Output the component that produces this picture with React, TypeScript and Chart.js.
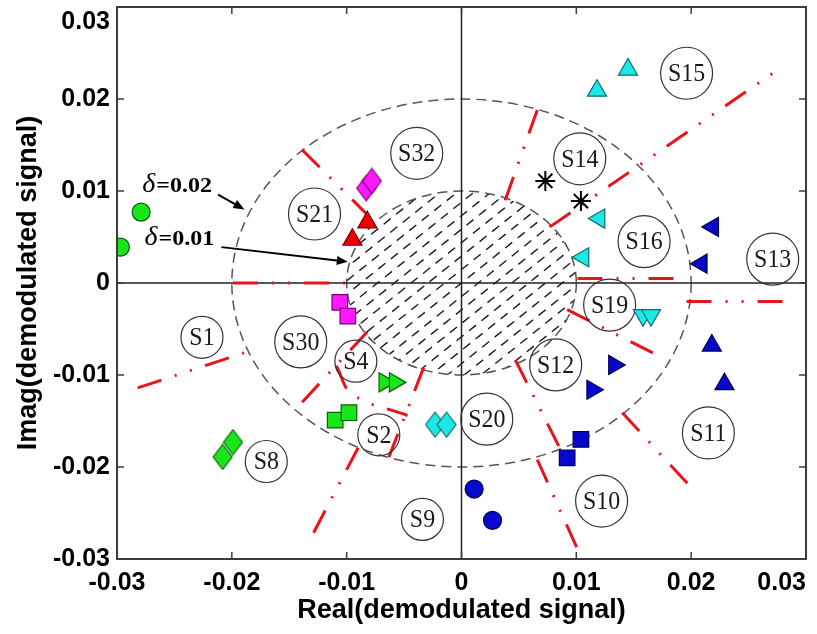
import { useEffect, useRef } from 'react';
import { Chart, registerables } from 'chart.js';

Chart.register(...registerables);

// ---------- axes ----------
const xTickValues = [-0.03, -0.02, -0.01, 0, 0.01, 0.02, 0.03];
const xTickLabels = ['-0.03', '-0.02', '-0.01', '0', '0.01', '0.02', '0.03'];
const yTickValues = [-0.03, -0.02, -0.01, 0, 0.01, 0.02, 0.03];
const yTickLabels = ['-0.03', '-0.02', '-0.01', '0', '0.01', '0.02', '0.03'];
const xTitle = 'Real(demodulated signal)';
const yTitle = 'Imag(demodulated signal)';

// ---------- received symbols ----------
const greenCircles = [{ x: -0.0279, y: 0.0077 }, { x: -0.0297, y: 0.0039 }];
const magentaDiamonds = [{ x: -0.0083, y: 0.0103 }, { x: -0.0078, y: 0.0111 }];
const redTriangles = [{ x: -0.0095, y: 0.0047 }, { x: -0.0082, y: 0.0066 }];
const magentaSquares = [{ x: -0.0106, y: -0.0021 }, { x: -0.0099, y: -0.0036 }];
const greenRightTriangles = [{ x: -0.0067, y: -0.0108 }, { x: -0.0058, y: -0.0108 }];
const greenSquares = [{ x: -0.011, y: -0.0149 }, { x: -0.0098, y: -0.0141 }];
const greenDiamonds = [{ x: -0.0199, y: -0.0173 }, { x: -0.0208, y: -0.0189 }];
const cyanDiamonds = [{ x: -0.0023, y: -0.0154 }, { x: -0.0013, y: -0.0154 }];
const blueCircles = [{ x: 0.0011, y: -0.0224 }, { x: 0.0027, y: -0.0258 }];
const blueSquares = [{ x: 0.0104, y: -0.017 }, { x: 0.0092, y: -0.019 }];
const blueRightTriangles = [{ x: 0.0133, y: -0.0089 }, { x: 0.0114, y: -0.0116 }];
const blueUpTriangles = [{ x: 0.0218, y: -0.0068 }, { x: 0.0229, y: -0.011 }];
const cyanDownTriangles = [{ x: 0.0158, y: -0.0035 }, { x: 0.0165, y: -0.0035 }];
const blueLeftTriangles = [{ x: 0.0219, y: 0.0061 }, { x: 0.0209, y: 0.0021 }];
const cyanLeftTriangles = [{ x: 0.012, y: 0.007 }, { x: 0.0106, y: 0.0028 }];
const blackStars = [{ x: 0.0073, y: 0.0111 }, { x: 0.0104, y: 0.0089 }];
const cyanUpTriangles = [{ x: 0.0118, y: 0.0209 }, { x: 0.0145, y: 0.0232 }];

// ---------- region labels ----------
const regionNames = ['S1', 'S2', 'S4', 'S8', 'S9', 'S10', 'S11', 'S12', 'S13', 'S14', 'S15', 'S16', 'S19', 'S20', 'S21', 'S30', 'S32'];
const regionX = [-0.0226, -0.0072, -0.0092, -0.017, -0.0034, 0.0122, 0.0215, 0.0082, 0.0271, 0.0103, 0.0196, 0.0159, 0.0129, 0.0022, -0.0128, -0.014, -0.0039];
const regionY = [-0.0059, -0.0165, -0.0085, -0.0194, -0.0257, -0.0237, -0.0163, -0.0089, 0.0026, 0.0135, 0.0228, 0.0045, -0.0024, -0.0148, 0.0075, -0.0064, 0.0141];

// ---------- threshold circles / annotations ----------
const deltaRadii = [0.02, 0.01];
const deltaLabels = ['=0.02', '=0.01'];
const deltaTextX = [-0.0278, -0.0276];
const deltaTextY = [0.0099, 0.0041];
const arrowFromX = [-0.0212, -0.0209];
const arrowFromY = [0.0096, 0.0039];
const arrowToX = [-0.0189, -0.0099];
const arrowToY = [0.0080, 0.0023];

// ---------- decision boundaries ----------
const boundaryLines = [
  [{ x: -0.0199, y: 0 }, { x: -0.0101, y: 0 }],
  [{ x: -0.0139, y: 0.0145 }, { x: -0.0081, y: 0.0073 }],
  [{ x: 0.0066, y: 0.0188 }, { x: 0.0038, y: 0.009 }],
  [{ x: 0.0077, y: 0.0061 }, { x: 0.0271, y: 0.0228 }],
  [{ x: 0.0101, y: 0.0005 }, { x: 0.019, y: 0.0005 }],
  [{ x: 0.0196, y: -0.002 }, { x: 0.0284, y: -0.002 }],
  [{ x: 0.0092, y: -0.0029 }, { x: 0.017, y: -0.0078 }],
  [{ x: 0.0047, y: -0.0084 }, { x: 0.0085, y: -0.0178 }],
  [{ x: 0.0066, y: -0.0192 }, { x: 0.0102, y: -0.0292 }],
  [{ x: 0.014, y: -0.0141 }, { x: 0.0202, y: -0.0225 }],
  [{ x: -0.0282, y: -0.0114 }, { x: -0.0187, y: -0.0075 }],
  [{ x: -0.0082, y: -0.0053 }, { x: -0.0145, y: -0.0138 }],
  [{ x: -0.009, y: -0.0179 }, { x: -0.0132, y: -0.0279 }],
  [{ x: -0.0033, y: -0.0092 }, { x: -0.0065, y: -0.0195 }],
  [{ x: -0.0109, y: -0.009 }, { x: -0.0095, y: -0.0121 }, { x: -0.0047, y: -0.0144 }],
];

const SANS = '"Liberation Sans", Arial, sans-serif';
const SERIF = '"Liberation Serif", "Times New Roman", serif';

function makeDiamond(fill: string, stroke: string) {
  const c = document.createElement('canvas');
  c.width = 21;
  c.height = 27;
  const g = c.getContext('2d')!;
  g.beginPath();
  g.moveTo(10.5, 1);
  g.lineTo(20, 13.5);
  g.lineTo(10.5, 26);
  g.lineTo(1, 13.5);
  g.closePath();
  g.fillStyle = fill;
  g.fill();
  g.strokeStyle = stroke;
  g.lineWidth = 1.2;
  g.stroke();
  return c;
}

const zeroPad = (s: any) => {
  s.paddingLeft = 0;
  s.paddingRight = 0;
  s.paddingTop = 0;
  s.paddingBottom = 0;
};

const decorPlugin = {
  id: 'decor',
  beforeDatasetsDraw(chart: any) {
    const { ctx, chartArea: a, scales } = chart;
    const xs = scales.x;
    const ys = scales.y;
    const cx = xs.getPixelForValue(0);
    const cy = ys.getPixelForValue(0);
    // hatch inside inner circle
    const rIn = deltaRadii[1];
    const rx = xs.getPixelForValue(rIn) - cx;
    const ry = cy - ys.getPixelForValue(rIn);
    ctx.save();
    ctx.beginPath();
    ctx.ellipse(cx, cy, rx, ry, 0, 0, Math.PI * 2);
    ctx.clip();
    const len = Math.hypot(rx, ry);
    const ux = rx / len;
    const uy = -ry / len;
    const nx = -uy;
    const ny = ux;
    ctx.strokeStyle = '#1a1a1a';
    ctx.lineWidth = 1.4;
    ctx.setLineDash([9, 7]);
    for (let k = -20; k <= 20; k++) {
      const bx = cx + nx * k * 10.5;
      const by = cy + ny * k * 10.5;
      ctx.beginPath();
      ctx.moveTo(bx - ux * 200, by - uy * 200);
      ctx.lineTo(bx + ux * 200, by + uy * 200);
      ctx.stroke();
    }
    ctx.restore();
    // dashed threshold circles
    ctx.save();
    ctx.strokeStyle = '#555';
    ctx.lineWidth = 1.5;
    ctx.setLineDash([10, 6]);
    for (const r of deltaRadii) {
      const ex = xs.getPixelForValue(r) - cx;
      const ey = cy - ys.getPixelForValue(r);
      ctx.beginPath();
      ctx.ellipse(cx, cy, ex, ey, 0, 0, Math.PI * 2);
      ctx.stroke();
    }
    ctx.restore();
    // zero axes
    ctx.save();
    ctx.strokeStyle = '#222';
    ctx.lineWidth = 1.5;
    ctx.beginPath();
    ctx.moveTo(cx, a.top);
    ctx.lineTo(cx, a.bottom);
    ctx.moveTo(a.left, cy);
    ctx.lineTo(a.right, cy);
    ctx.stroke();
    ctx.restore();
  },
  afterDatasetsDraw(chart: any) {
    const { ctx, chartArea: a, scales } = chart;
    const xs = scales.x;
    const ys = scales.y;
    // region label texts
    ctx.save();
    ctx.fillStyle = '#1a1a1a';
    ctx.font = `26px ${SERIF}`;
    ctx.textAlign = 'center';
    ctx.textBaseline = 'middle';
    regionNames.forEach((name, i) => {
      const px = xs.getPixelForValue(regionX[i]);
      const py = ys.getPixelForValue(regionY[i]);
      ctx.save();
      ctx.translate(px, py + 1);
      ctx.scale(0.92, 1);
      ctx.fillText(name, 0, 0);
      ctx.restore();
    });
    ctx.restore();
    // delta annotations
    ctx.save();
    ctx.fillStyle = '#000';
    ctx.strokeStyle = '#000';
    ctx.textBaseline = 'alphabetic';
    ctx.textAlign = 'left';
    deltaLabels.forEach((lab, i) => {
      const px = xs.getPixelForValue(deltaTextX[i]);
      const py = ys.getPixelForValue(deltaTextY[i]);
      ctx.font = `italic 28px ${SERIF}`;
      ctx.fillText('\u03b4', px, py);
      const w = ctx.measureText('\u03b4').width;
      ctx.save();
      ctx.translate(px + w + 1, py);
      ctx.scale(1.2, 1);
      ctx.font = `bold 20px ${SERIF}`;
      ctx.fillText(lab, 0, 0);
      ctx.restore();
      const x1 = xs.getPixelForValue(arrowFromX[i]);
      const y1 = ys.getPixelForValue(arrowFromY[i]);
      const x2 = xs.getPixelForValue(arrowToX[i]);
      const y2 = ys.getPixelForValue(arrowToY[i]);
      const ang = Math.atan2(y2 - y1, x2 - x1);
      const hl = 11;
      const hw = 4.5;
      ctx.lineWidth = 2;
      ctx.beginPath();
      ctx.moveTo(x1, y1);
      ctx.lineTo(x2 - Math.cos(ang) * hl * 0.8, y2 - Math.sin(ang) * hl * 0.8);
      ctx.stroke();
      ctx.beginPath();
      ctx.moveTo(x2, y2);
      ctx.lineTo(x2 - Math.cos(ang) * hl - Math.sin(ang) * hw, y2 - Math.sin(ang) * hl + Math.cos(ang) * hw);
      ctx.lineTo(x2 - Math.cos(ang) * hl + Math.sin(ang) * hw, y2 - Math.sin(ang) * hl - Math.cos(ang) * hw);
      ctx.closePath();
      ctx.fill();
    });
    ctx.restore();
    // frame and inner ticks
    ctx.save();
    ctx.strokeStyle = '#3c3c3c';
    ctx.lineWidth = 2;
    ctx.strokeRect(a.left, a.top, a.right - a.left, a.bottom - a.top);
    ctx.lineWidth = 1.5;
    ctx.beginPath();
    const tl = 7;
    xTickValues.forEach((v) => {
      const px = xs.getPixelForValue(v);
      ctx.moveTo(px, a.top);
      ctx.lineTo(px, a.top + tl);
      ctx.moveTo(px, a.bottom);
      ctx.lineTo(px, a.bottom - tl);
    });
    yTickValues.forEach((v) => {
      const py = ys.getPixelForValue(v);
      ctx.moveTo(a.left, py);
      ctx.lineTo(a.left + tl, py);
      ctx.moveTo(a.right, py);
      ctx.lineTo(a.right - tl, py);
    });
    ctx.stroke();
    ctx.restore();
  },
};

export default function App() {
  const ref = useRef<HTMLCanvasElement | null>(null);

  useEffect(() => {
    const canvas = ref.current;
    if (!canvas) return;

    const greenDia = makeDiamond('#19e619', '#0b5e0b');
    const magentaDia = makeDiamond('#ff19ff', '#7a007a');
    const cyanDia = makeDiamond('#1de8e8', '#0b6b6b');

    const GREEN = '#19e619', GREEN_E = '#0b5e0b';
    const MAG = '#ff19ff', MAG_E = '#7a007a';
    const RED = '#ee0000', RED_E = '#7a0000';
    const CYAN = '#1de8e8', CYAN_E = '#0b6b6b';
    const BLUE = '#0808cc', BLUE_E = '#000050';

    const marker = (data: any[], style: any, fill: string, edge: string, radius: number, rotation = 0) => ({
      type: 'scatter' as const,
      data,
      pointStyle: style,
      pointRadius: radius,
      pointRotation: rotation,
      backgroundColor: fill,
      borderColor: edge,
      pointBorderWidth: 1.2,
      borderWidth: 1.2,
      order: 1,
    });

    const markerSets = [
      marker(greenCircles, 'circle', GREEN, GREEN_E, 9),
      marker(magentaDiamonds, magentaDia, MAG, MAG_E, 12),
      marker(redTriangles, 'triangle', RED, RED_E, 11),
      marker(magentaSquares, 'rect', MAG, MAG_E, 11),
      marker(greenRightTriangles, 'triangle', GREEN, GREEN_E, 11, 90),
      marker(greenSquares, 'rect', GREEN, GREEN_E, 11),
      marker(greenDiamonds, greenDia, GREEN, GREEN_E, 12),
      marker(cyanDiamonds, cyanDia, CYAN, CYAN_E, 12),
      marker(blueCircles, 'circle', BLUE, BLUE_E, 9),
      marker(blueSquares, 'rect', BLUE, BLUE_E, 11),
      marker(blueRightTriangles, 'triangle', BLUE, BLUE_E, 11, 90),
      marker(blueUpTriangles, 'triangle', BLUE, BLUE_E, 11),
      marker(cyanDownTriangles, 'triangle', CYAN, CYAN_E, 11, 180),
      marker(blueLeftTriangles, 'triangle', BLUE, BLUE_E, 11, 270),
      marker(cyanLeftTriangles, 'triangle', CYAN, CYAN_E, 11, 270),
      { ...marker(blackStars, 'star', '#000', '#000', 10), pointBorderWidth: 2, borderWidth: 2 },
      marker(cyanUpTriangles, 'triangle', CYAN, CYAN_E, 11),
    ];

    const labelCircles = {
      type: 'scatter' as const,
      data: regionX.map((x, i) => ({ x, y: regionY[i] })),
      pointStyle: 'circle',
      pointRadius: regionNames.map((n) => (n.length > 2 ? 26 : 21)),
      backgroundColor: 'rgba(0,0,0,0)',
      borderColor: '#333',
      pointBorderWidth: 1.2,
      borderWidth: 1.2,
      order: 2,
    };

    const lineSets = boundaryLines.map((pts) => ({
      type: 'scatter' as const,
      data: pts,
      showLine: true,
      pointRadius: 0,
      borderColor: '#e8141c',
      borderWidth: 3,
      borderDash: [25, 14, 2, 14, 2, 14],
      tension: pts.length > 2 ? 0.4 : 0,
      fill: false,
      order: 3,
    }));

    const tickFont = { family: SANS, size: 25, weight: 'bold' as const };
    const titleFont = { family: SANS, size: 27, weight: 'bold' as const };

    const chart = new Chart(canvas, {
      type: 'scatter',
      data: { datasets: [...markerSets, labelCircles, ...lineSets] as any },
      options: {
        animation: false,
        responsive: false,
        events: [],
        layout: { autoPadding: false, padding: { left: 0, right: 11, top: 7, bottom: 0 } },
        plugins: { legend: { display: false }, tooltip: { enabled: false } },
        scales: {
          x: {
            type: 'linear',
            min: -0.03,
            max: 0.03,
            afterBuildTicks: (s: any) => {
              s.ticks = xTickValues.map((v) => ({ value: v }));
            },
            afterFit: (s: any) => {
              s.height = 75;
              zeroPad(s);
            },
            grid: { display: false, drawTicks: false },
            border: { display: false },
            ticks: {
              autoSkip: false,
              maxRotation: 0,
              padding: 9,
              color: '#000',
              font: tickFont,
              callback: (_v: any, i: number) =>
                i === xTickLabels.length - 1 ? xTickLabels[i] + '       ' : xTickLabels[i],
            },
            title: { display: true, text: xTitle, color: '#000', font: titleFont, padding: { top: 0, bottom: 7 } },
          },
          y: {
            type: 'linear',
            min: -0.03,
            max: 0.03,
            afterBuildTicks: (s: any) => {
              s.ticks = yTickValues.map((v) => ({ value: v }));
            },
            afterFit: (s: any) => {
              s.width = 117;
              zeroPad(s);
            },
            grid: { display: false, drawTicks: false },
            border: { display: false },
            ticks: {
              autoSkip: false,
              padding: 7,
              color: '#000',
              font: tickFont,
              callback: (_v: any, i: number) =>
                i === yTickLabels.length - 1 ? ['', yTickLabels[i]] : yTickLabels[i],
            },
            title: { display: true, text: yTitle, color: '#000', font: titleFont, padding: { top: 12, bottom: 0 } },
          },
        },
      },
      plugins: [decorPlugin],
    });

    return () => chart.destroy();
  }, []);

  return (
    <div style={{ position: 'fixed', left: 0, top: 0, width: 817, height: 634, background: '#fff' }}>
      <canvas ref={ref} width={817} height={634} style={{ display: 'block', width: 817, height: 634 }} />
    </div>
  );
}
